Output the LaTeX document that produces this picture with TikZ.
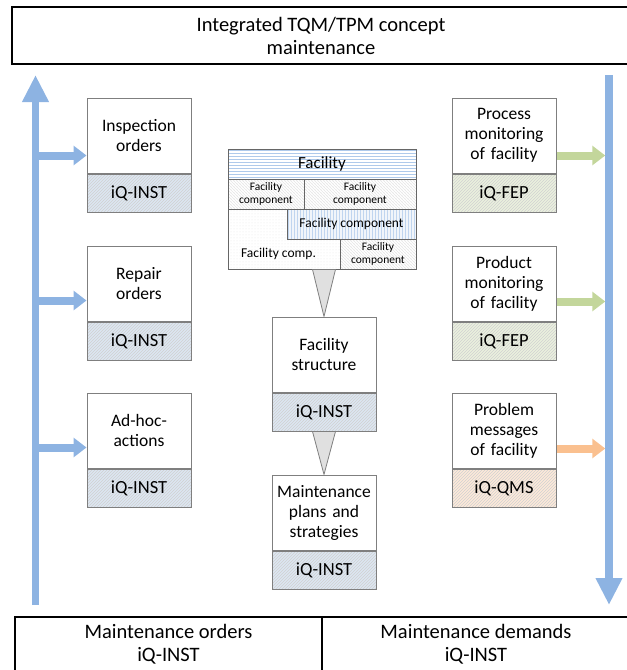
\documentclass[tikz,border=0pt]{standalone}
\usepackage{fontspec}
\setmainfont{Carlito}
\usepackage{xcolor}
\usepackage{tikz}
\usetikzlibrary{positioning,arrows.meta,patterns,calc}

\definecolor{arrblue}{HTML}{8DB3E2}
\definecolor{arrgreen}{HTML}{C3D69B}
\definecolor{arrorange}{HTML}{FAC08F}
\definecolor{boxgray}{HTML}{7F7F7F}
\definecolor{tagblue}{HTML}{DCE6F2}
\definecolor{taggreen}{HTML}{EBF1DE}
\definecolor{tagorange}{HTML}{FDE9D9}

\tikzset{
  upper/.style={draw=boxgray,line width=1pt,fill=white,minimum width=104pt,minimum height=75pt,
    text width=100pt,align=center,inner sep=0pt,font=\fontsize{17.5}{20}\selectfont},
  tag/.style={draw=boxgray,line width=1pt,minimum width=104pt,minimum height=38pt,inner sep=0pt,
    font=\fontsize{18.5}{20}\selectfont,below=0pt of #1,pattern=north east lines,pattern color=black!18},
  tagb/.style={tag=#1,preaction={fill=tagblue}},
  tagg/.style={tag=#1,preaction={fill=taggreen}},
  tago/.style={tag=#1,preaction={fill=tagorange}},
  bigbox/.style={draw=black,line width=1.2pt,align=center,inner sep=0pt,font=\fontsize{20.5}{23}\selectfont},
  cell/.style={draw=boxgray!80!black,line width=0.8pt,inner sep=0pt,align=center,minimum height=30pt},
  bigarrow/.style={arrblue,line width=7.5pt,-{Triangle[width=25pt,length=27pt]}},
  branch/.style={line width=8pt,-{Triangle[width=19pt,length=13pt]}},
  funnel/.style={draw=boxgray,fill=black!12,line width=0.8pt,line join=round}
}

\begin{document}
\begin{tikzpicture}[x=1pt,y=-1pt]
\useasboundingbox (0,0) rectangle (627,670);

% top and bottom frames
\node[bigbox,minimum width=618pt,minimum height=57pt] (tqm) at (321,35.5) {Integrated TQM/TPM concept\\maintenance};
\node[bigbox,minimum width=307pt,minimum height=55pt] (morders) at (168.5,644.5) {Maintenance orders\\iQ-INST};
\node[bigbox,minimum width=308pt,minimum height=55pt] (mdemands) at (476,644.5) {Maintenance demands\\iQ-INST};

% left column
\node[upper] (insp) at (139,135.5) {Inspection\\orders};\node[tagb=insp] (inspt) {iQ-INST};
\node[upper] (repair) at (139,283.5) {Repair\\orders};\node[tagb=repair] (repairt) {iQ-INST};
\node[upper] (adhoc) at (139,430.5) {Ad-hoc-\\actions};\node[tagb=adhoc] (adhoct) {iQ-INST};

% right column
\node[upper] (procmon) at (504,135.5) {Process\\monitoring\\of facility};\node[tagg=procmon] (procmont) {iQ-FEP};
\node[upper] (prodmon) at (504,283.5) {Product\\monitoring\\of facility};\node[tagg=prodmon] (prodmont) {iQ-FEP};
\node[upper] (problem) at (504,430.5) {Problem\\messages\\of facility};\node[tago=problem] (problemt) {iQ-QMS};

% facility block
\node[cell,minimum width=188pt,minimum height=90pt,pattern=dots,pattern color=black!10] (facbody) at (322,224) {};
\node[cell,minimum width=188pt,preaction={fill=white},pattern=horizontal lines,pattern color=arrblue!70,font=\fontsize{17}{20}\selectfont] (fachead) at (322,164) {Facility};
\node[cell,minimum width=76pt,pattern=north west lines,pattern color=black!10,font=\fontsize{11.5}{13}\selectfont] (comp1) at (266,194) {Facility\\component};
\node[cell,minimum width=112pt,pattern=north west lines,pattern color=black!10,font=\fontsize{11.5}{13}\selectfont] (comp2) at (360,194) {Facility\\component};
\node[cell,minimum width=129pt,preaction={fill=tagblue!40},pattern=vertical lines,pattern color=arrblue!55,font=\fontsize{13.5}{15}\selectfont] (comp3) at (351.5,224) {Facility component};
\node[font=\fontsize{13.5}{15}\selectfont] (comp4) at (278.5,254) {Facility comp.};
\node[cell,minimum width=76pt,pattern=north west lines,pattern color=black!10,font=\fontsize{11.5}{13}\selectfont] (comp5) at (378,254) {Facility\\component};

% center column
\node[upper] (fstruct) at (324,354.5) {Facility\\structure};\node[tagb=fstruct] (fstructt) {iQ-INST};
\node[upper] (mplan) at (324,512.5) {Maintenance\\plans and\\strategies};\node[tagb=mplan] (mplant) {iQ-INST};

\coordinate (f1) at (facbody.south -| fstruct.north);
\draw[funnel] ([xshift=-11.5pt]f1) -- (fstruct.north) -- ([xshift=11.5pt]f1) -- cycle;
\coordinate (f2) at (fstructt.south -| mplan.north);
\draw[funnel] ([xshift=-11.5pt]f2) -- (mplan.north) -- ([xshift=11.5pt]f2) -- cycle;

% arrows
\coordinate (lb) at (35.5,605);\coordinate (lt) at (35.5,75);
\coordinate (rt) at (609,75);\coordinate (rb) at (609,605);
\draw[branch,arrblue] ([yshift=-20pt]insp.west -| lb) -- ([yshift=-20pt]insp.west);
\draw[branch,arrblue] ([yshift=-17pt]repair.west -| lb) -- ([yshift=-17pt]repair.west);
\draw[branch,arrblue] ([yshift=-17pt]adhoc.west -| lb) -- ([yshift=-17pt]adhoc.west);
\draw[branch,arrgreen,shorten >=3.75pt] ([yshift=-20pt]procmon.east) -- ([yshift=-20pt]procmon.east -| rt);
\draw[branch,arrgreen,shorten >=3.75pt] ([yshift=-18pt]prodmon.east) -- ([yshift=-18pt]prodmon.east -| rt);
\draw[branch,arrorange,shorten >=3.75pt] ([yshift=-18pt]problem.east) -- ([yshift=-18pt]problem.east -| rt);
\draw[bigarrow] (lb) -- (lt);
\draw[bigarrow] (rt) -- (rb);
\end{tikzpicture}
\end{document}
